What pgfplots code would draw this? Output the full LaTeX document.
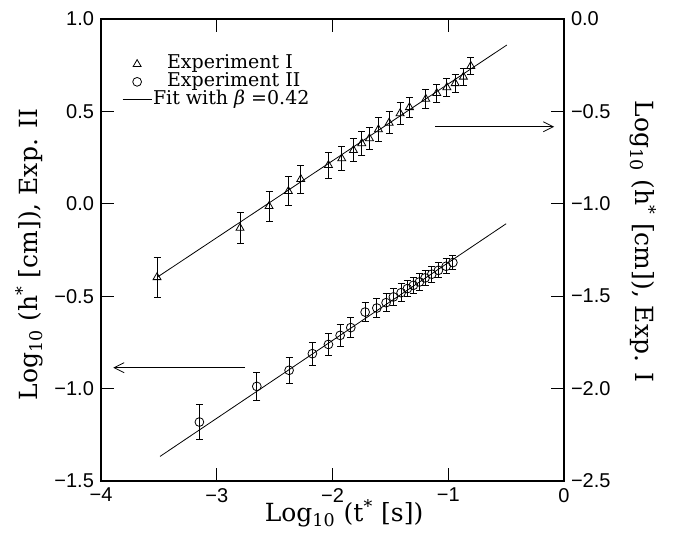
\documentclass[border=0pt]{standalone}
\usepackage{fontspec}
\setmainfont{DejaVu Serif}
\newfontfamily\ticksf{Liberation Sans}
\usepackage{pgfplots}
\usepackage{pgfplotstable}
\pgfplotsset{compat=1.18}
\usetikzlibrary{arrows.meta}

% Experiment I (values on the right axis)
\pgfplotstableread{
x y e
-3.516 -1.398 0.110
-2.799 -1.131 0.083
-2.548 -1.013 0.080
-2.381 -0.932 0.078
-2.274 -0.867 0.075
-2.035 -0.791 0.070
-1.920 -0.755 0.065
-1.819 -0.710 0.063
-1.747 -0.673 0.063
-1.681 -0.646 0.060
-1.603 -0.598 0.063
-1.511 -0.562 0.060
-1.416 -0.511 0.060
-1.335 -0.478 0.055
-1.194 -0.433 0.050
-1.099 -0.402 0.050
-1.012 -0.370 0.050
-0.940 -0.348 0.050
-0.869 -0.313 0.048
-0.805 -0.255 0.045
}\expone

% Experiment II (values on the left axis)
\pgfplotstableread{
x y e
-3.150 -1.181 0.096
-2.654 -0.988 0.077
-2.375 -0.901 0.072
-2.174 -0.811 0.063
-2.035 -0.761 0.060
-1.934 -0.712 0.058
-1.842 -0.670 0.055
-1.718 -0.586 0.050
-1.617 -0.564 0.050
-1.537 -0.535 0.050
-1.474 -0.504 0.048
-1.407 -0.481 0.048
-1.353 -0.459 0.045
-1.301 -0.441 0.045
-1.249 -0.423 0.045
-1.200 -0.401 0.043
-1.142 -0.381 0.042
-1.085 -0.360 0.040
-1.018 -0.338 0.040
-0.960 -0.318 0.038
}\exptwo

\pgfplotsset{
  common/.style={
    width=231.5pt, height=231pt, scale only axis,
    xmin=-4, xmax=0,
    axis line style={line width=0.6pt},
    tick style={line width=0.6pt, black},
    major tick length=6.5pt, tick align=inside,
    tick label style={font=\ticksf\fontsize{10}{12}\selectfont},
    label style={font=\fontsize{12.5}{14}\selectfont},
  },
  pts/.style={only marks, black, thin,
    error bars/y dir=both, error bars/y explicit,
    error bars/error bar style={line width=0.45pt},
    error bars/error mark options={rotate=90, mark size=1.75pt, line width=0.45pt}},
  markleg/.style={legend image code/.code={%
    \draw[mark repeat=2, mark phase=2, ##1] plot coordinates {(0pt,0pt) (7.25pt,0pt) (14.5pt,0pt)};}},
  lineleg/.style={legend image code/.code={\draw[##1] (0pt,0pt) -- (14.5pt,0pt);}},
}

\begin{document}
\begin{tikzpicture}
\begin{axis}[common, name=ax,
  ymin=-1.5, ymax=1.0,
  xtick={-4,-3,-2,-1,0}, xticklabels={−4,−3,−2,−1,0},
  ytick={-1.5,-1,-0.5,0,0.5,1}, yticklabels={−1.5,−1.0,−0.5,0.0,0.5,1.0},
  ytick pos=left,
  xlabel={Log\textsubscript{10} (t\textsuperscript{*} [s])},
  ylabel={Log\textsubscript{10} (h\textsuperscript{*} [cm]), Exp. II},
  xlabel style={at={(axis description cs:0.525,-0.088)}, anchor=base},
  ylabel style={at={(axis description cs:-0.155,0.49)}, anchor=center},
  legend cell align=left,
  legend style={draw=none, fill=none, at={(axis description cs:0.045,0.922)},
    anchor=north west, inner sep=0pt, row sep=0pt,
    font=\fontsize{9.5}{9.5}\selectfont,
    nodes={inner sep=0.5pt, text height=6.2pt, text depth=1.6pt},
    /tikz/every even column/.append style={column sep=0pt}},
  clip=false,
]
\addlegendimage{only marks, mark=triangle, mark size=2.3pt, thin, black, markleg}
\addlegendentry{\hspace*{7pt}Experiment I}
\addlegendimage{only marks, mark=o, mark size=2.2pt, thin, black, markleg}
\addlegendentry{\hspace*{7pt}Experiment II}
\addlegendimage{black, thin, lineleg}
\addlegendentry{Fit with {\itshape β} =0.42}

\addplot[black, thin, forget plot] coordinates {(-3.49,-1.367) (-0.50,-0.108)};
\addplot[pts, mark=o, mark size=2.2pt, fill=white, forget plot]
  table[x=x, y=y, y error=e] {\exptwo};

\draw[thin, -{Straight Barb[length=5pt, width=5pt]}]
  (axis cs:-2.755,-0.887) -- (axis cs:-3.894,-0.887);
\draw[thin, -{Straight Barb[length=5pt, width=5pt]}]
  (axis cs:-1.113,0.417) -- (axis cs:-0.085,0.417);
\end{axis}

\begin{axis}[common,
  ymin=-2.5, ymax=0,
  axis y line*=right, axis x line=none,
  ytick={-2.5,-2,-1.5,-1,-0.5,0}, yticklabels={−2.5,−2.0,−1.5,−1.0,−0.5,0.0},
  ylabel={Log\textsubscript{10} (h\textsuperscript{*} [cm]), Exp. I},
  ylabel style={at={(axis description cs:1.171,0.518)}, anchor=center, rotate=180},
]
\addplot[black, thin] coordinates {(-3.516,-1.398) (-0.494,-0.141)};
\addplot[pts, mark=triangle, mark size=2.3pt, fill=white]
  table[x=x, y=y, y error=e] {\expone};
\end{axis}

\pgfresetboundingbox
\path[use as bounding box] ([xshift=-50.5pt,yshift=-27pt]ax.south west)
  rectangle ([xshift=55pt,yshift=9.5pt]ax.north east);
\end{tikzpicture}
\end{document}
